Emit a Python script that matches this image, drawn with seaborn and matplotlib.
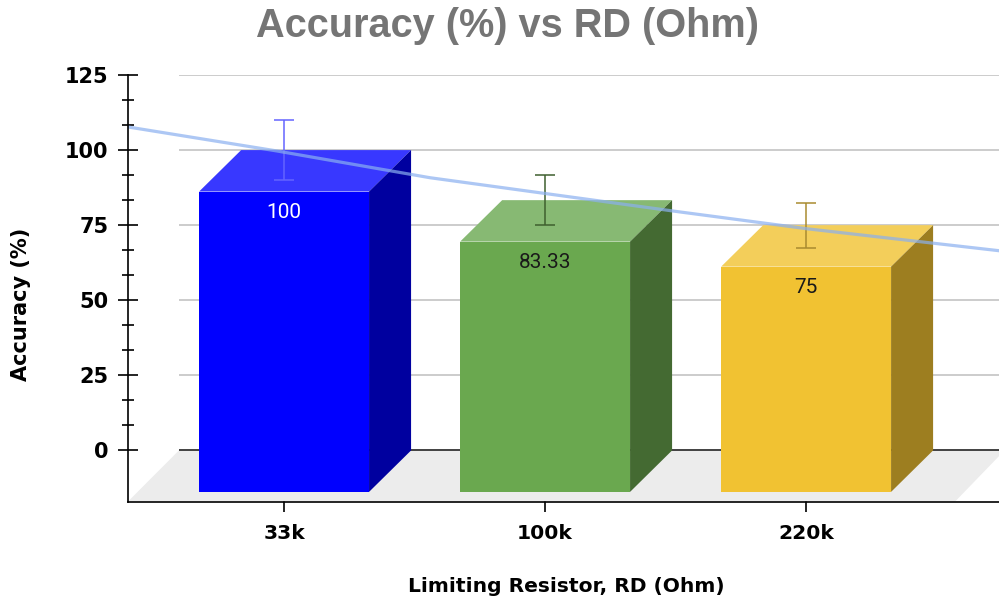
import matplotlib
matplotlib.use('Agg')
import matplotlib.pyplot as plt
from matplotlib.patches import Polygon
import seaborn as sns

categories = ['33k', '100k', '220k']
accuracy = [100, 83.33, 75]
errors = [10, 8.33, 7.5]
value_labels = ['100', '83.33', '75']

front_colors = ['#0000ff', '#6aa84f', '#f1c232']
top_colors = ['#3838ff', '#87b973', '#f3ce5a']
side_colors = ['#00009f', '#446a32', '#9d7e20']
error_colors = ['#6464ff', '#3f5f2f', '#a98b30']
label_colors = ['white', '#1a1a1a', '#1a1a1a']

# trend curve, category position / value
trend_pos = [-0.598, -0.027, 0.559, 1.517, 2.004, 2.739]
trend_values = [107.7, 99.7, 90.8, 79.4, 73.8, 66.5]

y_ticks = [0, 25, 50, 75, 100, 125]

# fake 3D depth of the bars and the floor
DEPTH_X = 0.161
DEPTH_Y = 13.8
FLOOR_X = 0.195
FLOOR_Y = 17

sns.set_theme(style='white')
plt.rcParams['font.family'] = ['DejaVu Sans']

fig = plt.figure(figsize=(9.99, 5.99), dpi=100)
ax = fig.add_axes([128 / 999, (599 - 501.5) / 599, 871 / 999, 426.5 / 599])
x_min, x_max = -0.598, 2.739

sns.barplot(x=categories, y=accuracy, hue=categories, palette=front_colors, width=0.651, bottom=-DEPTH_Y,
            legend=False, saturation=1, linewidth=0, ax=ax, zorder=3)
bars = list(ax.patches)

# seaborn resets the limits, so set them after the bars
ax.set_xlim(x_min, x_max)
ax.set_ylim(-FLOOR_Y, 125)

# floor
ax.add_patch(Polygon([(x_min, -FLOOR_Y), (x_min + FLOOR_X, 0), (x_max, 0), (x_max, -1.9), (2.571, -FLOOR_Y)],
                     facecolor='#ececec', edgecolor='none', zorder=1))

# back wall gridlines
for tick in y_ticks:
    ax.hlines(tick, x_min + FLOOR_X, x_max, color='#333333' if tick == 0 else '#c8c8c8', lw=1.3, zorder=1.5)

# top and side faces built from the bars seaborn drew
for i, bar in enumerate(bars[-len(categories):]):
    x0 = bar.get_x()
    x1 = x0 + bar.get_width()
    y0 = bar.get_y()
    y1 = y0 + bar.get_height()
    ax.add_patch(Polygon([(x0, y1), (x1, y1), (x1 + DEPTH_X, y1 + DEPTH_Y), (x0 + DEPTH_X, y1 + DEPTH_Y)],
                         facecolor=top_colors[i], edgecolor='none', zorder=3))
    ax.add_patch(Polygon([(x1, y0), (x1, y1), (x1 + DEPTH_X, y1 + DEPTH_Y), (x1 + DEPTH_X, y0 + DEPTH_Y)],
                         facecolor=side_colors[i], edgecolor='none', zorder=3))
    ax.annotate(value_labels[i], (i, y1), xytext=(0, -15), textcoords='offset points', ha='center', va='center',
                color=label_colors[i], fontsize=15, family='Roboto', zorder=6)
    ax.errorbar(i, accuracy[i], yerr=errors[i], color=error_colors[i], capsize=7.5, elinewidth=1.1,
                capthick=1.1, zorder=4)

sns.lineplot(x=trend_pos, y=trend_values, color='#8ab0f0', lw=2.3, alpha=0.7, ax=ax, zorder=5, sort=False)

sns.despine(ax=ax)
ax.spines['left'].set_color('black')
ax.spines['bottom'].set_color('black')
ax.spines['left'].set_linewidth(1.2)
ax.spines['bottom'].set_linewidth(1.2)
ax.spines['left'].set_zorder(7)

ax.set_yticks(y_ticks)
ax.set_yticks([t + k * 25 / 3 for t in y_ticks[:-1] for k in (1, 2)], minor=True)
ax.set_xticks(range(len(categories)))
ax.set_xticklabels(categories)
ax.tick_params(axis='y', which='major', direction='inout', length=15, width=1.2, color='black', left=True,
               labelsize=15, pad=6.5)
ax.tick_params(axis='y', which='minor', direction='inout', length=8, width=1.2, color='black', left=True)
ax.tick_params(axis='x', which='major', direction='inout', length=15, width=1.2, color='black', bottom=True,
               labelsize=14.6, pad=9)
for label in ax.get_xticklabels() + ax.get_yticklabels():
    label.set_fontweight('bold')
    label.set_color('black')
ax.set_xlabel('')
ax.set_ylabel('')

fig.text(508 / 999, 1 - 26 / 599, 'Accuracy (%) vs RD (Ohm)', ha='center', va='center', fontsize=28.6,
         fontweight='bold', color='#757575', family='Liberation Sans')
fig.text(566 / 999, 1 - 586 / 599, 'Limiting Resistor, RD (Ohm)', ha='center', va='center', fontsize=14.6,
         fontweight='bold', color='black')
fig.text(21 / 999, 1 - 304 / 599, 'Accuracy (%)', ha='center', va='center', rotation=90, fontsize=15,
         fontweight='bold', color='black')

fig.savefig('out.png', dpi=100)
plt.close(fig)
